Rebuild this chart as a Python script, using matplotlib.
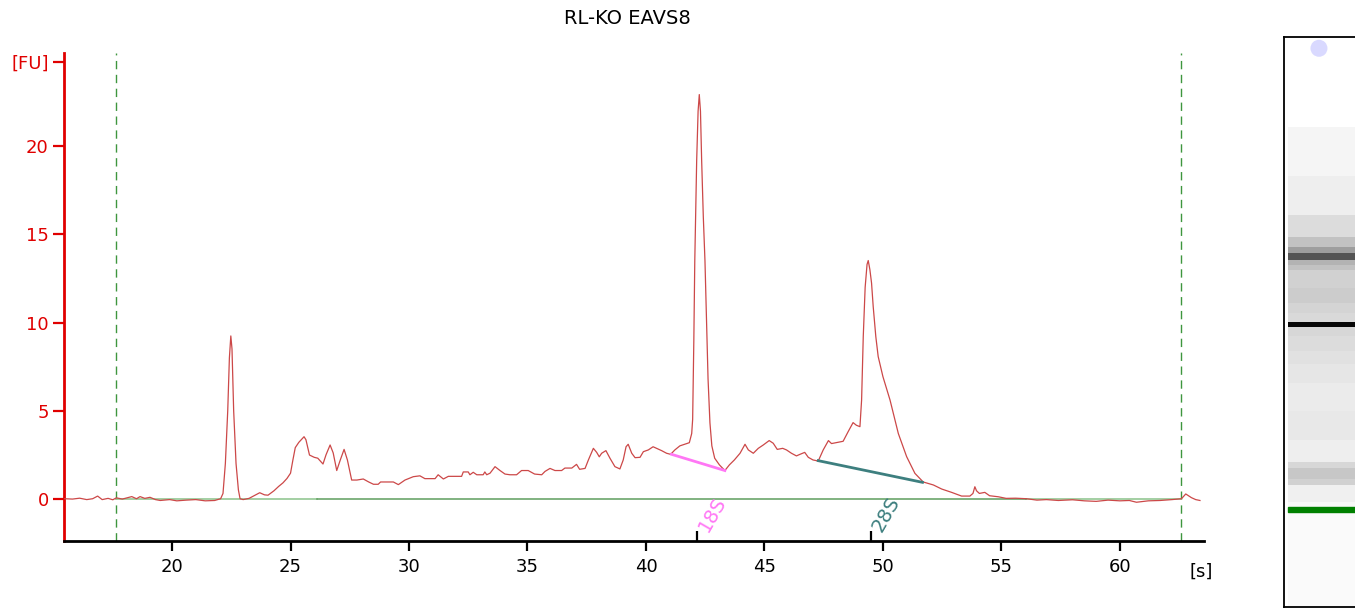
import matplotlib.pyplot as plt
import numpy as np

# electropherogram trace (time [s], fluorescence [FU])
time_s = [15.45, 15.8, 16.1, 16.4, 16.65, 16.86, 17.05, 17.3, 17.5, 17.65, 17.9, 18.3, 18.5, 18.65, 18.85,
          19.07, 19.3, 19.5, 19.9, 20.2, 20.6, 21.0, 21.4, 21.8, 22.05, 22.15, 22.25, 22.35, 22.42, 22.48,
          22.53, 22.6, 22.7, 22.8, 22.87, 23.0, 23.25, 23.5, 23.7, 23.9, 24.05, 24.3, 24.5, 24.68, 24.85,
          25.0, 25.1, 25.2, 25.35, 25.57, 25.65, 25.8, 26.0, 26.15, 26.37, 26.5, 26.67, 26.8, 26.95, 27.1,
          27.26, 27.4, 27.58, 27.8, 28.07, 28.3, 28.5, 28.7, 28.8, 29.0, 29.34, 29.55, 29.83, 30.0, 30.18,
          30.46, 30.67, 31.1, 31.23, 31.45, 31.66, 32.22, 32.29, 32.5, 32.57, 32.71, 32.86, 33.13, 33.2,
          33.28, 33.42, 33.63, 33.84, 34.05, 34.26, 34.54, 34.75, 35.03, 35.3, 35.6, 35.74, 35.95, 36.16,
          36.44, 36.58, 36.87, 37.07, 37.2, 37.43, 37.57, 37.78, 37.92, 38.03, 38.13, 38.31, 38.48, 38.69,
          38.9, 39.04, 39.16, 39.25, 39.4, 39.54, 39.75, 39.89, 40.1, 40.3, 40.45, 40.66, 40.87, 41.04,
          41.22, 41.43, 41.65, 41.83, 41.93, 41.97, 42.02, 42.06, 42.14, 42.2, 42.25, 42.3, 42.35, 42.42,
          42.49, 42.56, 42.62, 42.7, 42.78, 42.9, 43.1, 43.33, 43.52, 43.73, 43.97, 44.18, 44.32, 44.53,
          44.74, 44.95, 45.2, 45.37, 45.54, 45.77, 45.93, 46.14, 46.35, 46.5, 46.7, 46.85, 47.05, 47.27,
          47.48, 47.7, 47.83, 48.1, 48.32, 48.53, 48.74, 48.88, 49.03, 49.1, 49.17, 49.25, 49.33, 49.38,
          49.45, 49.52, 49.59, 49.7, 49.8, 50.0, 50.3, 50.65, 51.0, 51.35, 51.7, 52.13, 52.48, 52.9, 53.32,
          53.67, 53.8, 53.88, 53.95, 54.07, 54.3, 54.5, 54.87, 55.2, 55.6, 56.06, 56.5, 56.9, 57.4, 58.0,
          58.5, 59.0, 59.5, 60.0, 60.4, 60.7, 61.2, 61.7, 62.2, 62.6, 62.78, 63.02, 63.2, 63.38]
fu = [0.0, -0.02, 0.03, -0.05, 0.0, 0.15, -0.05, 0.02, -0.06, 0.05, -0.02, 0.12, 0.0, 0.12, 0.02,
      0.08, -0.05, -0.1, -0.05, -0.12, -0.08, -0.05, -0.12, -0.1, 0.0, 0.3, 2.0, 5.0, 8.0, 9.24,
      8.5, 5.0, 2.0, 0.5, 0.0, -0.05, 0.02, 0.2, 0.34, 0.22, 0.2, 0.45, 0.7, 0.9, 1.15,
      1.45, 2.2, 2.9, 3.2, 3.52, 3.35, 2.48, 2.35, 2.3, 1.97, 2.5, 3.05, 2.6, 1.6, 2.2,
      2.8, 2.2, 1.06, 1.06, 1.12, 0.95, 0.82, 0.82, 0.95, 0.95, 0.95, 0.8, 1.06, 1.15, 1.25,
      1.3, 1.14, 1.14, 1.36, 1.12, 1.27, 1.27, 1.52, 1.52, 1.36, 1.5, 1.36, 1.36, 1.52,
      1.36, 1.45, 1.82, 1.6, 1.4, 1.36, 1.36, 1.6, 1.6, 1.4, 1.36, 1.55, 1.72, 1.6,
      1.6, 1.74, 1.74, 1.95, 1.67, 1.72, 2.2, 2.86, 2.63, 2.38, 2.58, 2.73, 2.3, 1.82,
      1.69, 2.2, 2.95, 3.09, 2.58, 2.33, 2.35, 2.67, 2.77, 2.95, 2.86, 2.73, 2.58, 2.52,
      2.77, 3.0, 3.1, 3.18, 3.7, 4.5, 9.0, 13.5, 19.2, 22.0, 22.94, 22.0, 19.2, 16.0,
      13.5, 10.0, 6.8, 4.3, 3.0, 2.3, 1.92, 1.6, 1.92, 2.2, 2.58, 3.09, 2.77, 2.58,
      2.86, 3.05, 3.3, 3.15, 2.8, 2.86, 2.77, 2.58, 2.43, 2.52, 2.63, 2.35, 2.2, 2.14,
      2.77, 3.3, 3.13, 3.2, 3.26, 3.8, 4.32, 4.17, 4.09, 5.6, 9.2, 12.0, 13.3, 13.52,
      13.0, 12.24, 10.9, 9.2, 8.07, 6.93, 5.6, 3.7, 2.39, 1.44, 0.95, 0.78, 0.55, 0.36, 0.15,
      0.15, 0.3, 0.68, 0.45, 0.3, 0.36, 0.17, 0.11, 0.02, 0.03, 0.0, -0.08, -0.05, -0.1, -0.06,
      -0.12, -0.15, -0.08, -0.12, -0.1, -0.2, -0.12, -0.1, -0.05, 0.0, 0.27, 0.06, -0.05, -0.1]

# analysis window and peak annotations
window = [17.65, 62.6]
baseline_light = [[17.65, 26.1], [56.05, 62.6]]
baseline_dark = [26.1, 56.05]
peak_names = ['18S', '28S']
peak_times = [42.14, 49.48]
peak_label_pos = [(42.8, -0.85), (50.15, -0.85)]
peak_colors = ['#FF77F5', '#3D7F7F']
peak_base_x = [[41.08, 43.33], [47.27, 51.67]]
peak_base_y = [[2.52, 1.6], [2.16, 0.93]]

xticks = [20, 25, 30, 35, 40, 45, 50, 55, 60]
yticks = [0, 5, 10, 15, 20, 24.8]
ytick_labels = ['0', '5', '10', '15', '20', '[FU]']

# gel lane: band edges in migration time [s] and gray level of each band
gel_edges = [12.2, 22.2, 22.8, 23.4, 25.2, 25.8, 27.0, 27.6, 30.0, 33.0, 36.0, 38.0, 39.4, 41.0, 42.0,
             42.5, 43.5, 44.5, 46.1, 48.0, 48.6, 49.1, 49.8, 50.5, 51.5, 53.9, 58.0, 63.2, 72.8]
gel_gray = [0.98, 0.98, 0.97, 0.94, 0.82, 0.78, 0.84, 0.93, 0.91, 0.92, 0.9, 0.88, 0.86, 0.84,
            0.03, 0.85, 0.83, 0.8, 0.82, 0.76, 0.7, 0.33, 0.62, 0.76, 0.86, 0.93, 0.96, 1.0]
marker_band = [22.25, 22.8]
top_dot_time = 71.6

RED = '#E00000'

fig = plt.figure(figsize=(13.55, 6.09), dpi=100)
ax = fig.add_axes([64 / 1355, 68 / 609, 1140 / 1355, 488 / 609])

ax.plot(time_s, fu, color='#CC4848', lw=0.9, zorder=3)
for seg in baseline_light:
    ax.plot(seg, [0, 0], color='#9CCB9C', lw=1.3, zorder=2)
ax.plot(baseline_dark, [0, 0], color='#5E9E5E', lw=1.1, zorder=2)
for w in window:
    ax.axvline(w, color='#3E963E', lw=1, ls=(0, (6, 4)), zorder=1)

for name, bx, by, pos, c in zip(peak_names, peak_base_x, peak_base_y, peak_label_pos, peak_colors):
    ax.plot(bx, by, color=c, lw=2, zorder=4)
    ax.text(pos[0], pos[1], name, color=c, fontsize=14, rotation=60,
            ha='center', va='center')

ax.set_xlim(15.44, 63.55)
ax.set_ylim(-2.4, 25.3)
ax.set_xticks(xticks)
ax.set_xticks(peak_times, minor=True)
ax.set_yticks(yticks)
ax.set_yticklabels(ytick_labels)

ax.spines['top'].set_visible(False)
ax.spines['right'].set_visible(False)
ax.spines['left'].set_color(RED)
ax.spines['left'].set_linewidth(2)
ax.spines['bottom'].set_linewidth(2)
ax.tick_params(axis='x', which='major', length=7, width=1.6, pad=5, labelsize=13)
ax.tick_params(axis='x', which='minor', direction='in', length=7, width=1.6)
ax.tick_params(axis='y', length=8, width=1.6, pad=3, labelsize=13, colors=RED)
ax.text(63.45, -0.064, '[s]', transform=ax.get_xaxis_transform(), fontsize=13,
        ha='center', va='center')

fig.text(0.463, 1 - 19 / 609, 'RL-KO EAVS8', fontsize=14, ha='center', va='center')

# gel image
gax = fig.add_axes([1284 / 1355, 2 / 609, 76 / 1355, 570 / 609])
gray_grid = np.array(gel_gray).reshape(-1, 1)
gax.pcolormesh([0.05, 1.0], gel_edges, gray_grid, cmap='gray', vmin=0, vmax=1, shading='flat')
gax.axhspan(marker_band[0], marker_band[1], xmin=0.05, xmax=1.0, color='#008000')
gax.scatter([0.46], [top_dot_time], s=150, marker='o', color='#D9D9FF', edgecolors='none')
gax.set_xlim(0, 1)
gax.set_ylim(gel_edges[0], gel_edges[-1])
gax.set_xticks([])
gax.set_yticks([])
for sp in gax.spines.values():
    sp.set_linewidth(1.3)

fig.savefig('out.png', dpi=100)
